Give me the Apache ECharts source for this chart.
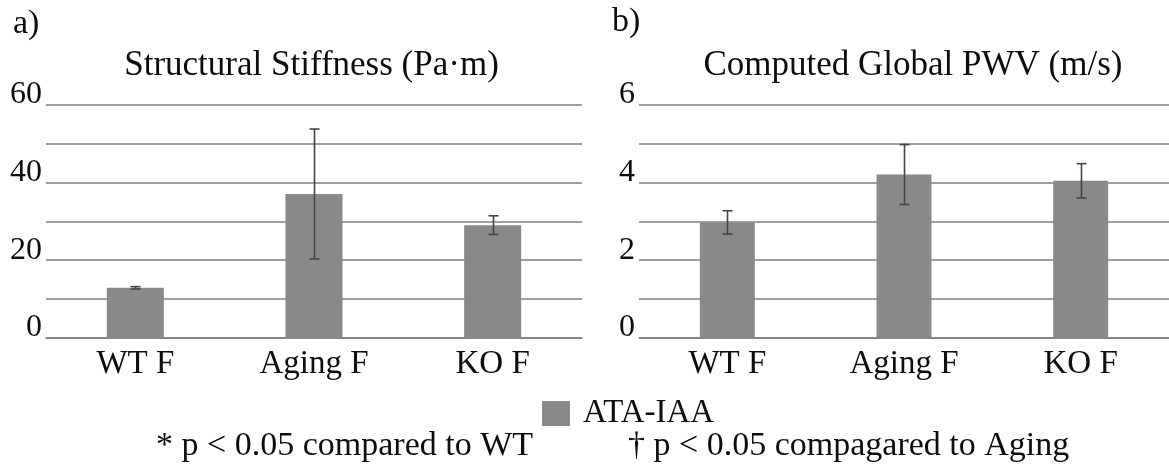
<!DOCTYPE html>
<html>
<head>
<meta charset="utf-8">
<script src="https://cdn.jsdelivr.net/npm/echarts@6/dist/echarts.min.js"></script>
<style>
html,body{margin:0;padding:0;background:#fff;}
#chart{width:1169px;height:468px;}
</style>
</head>
<body>
<div id="chart"></div>
<script>
const categories = ['WT F', 'Aging F', 'KO F'];
const stiffnessValues = [12.9, 37.0, 29.0];
const stiffnessErrors = [0.3, 16.7, 2.4];
const pwvValues = [2.97, 4.2, 4.04];
const pwvErrors = [0.3, 0.77, 0.44];
const stiffnessTicks = [0, 20, 40, 60];
const pwvTicks = [0, 2, 4, 6];
const seriesName = 'ATA-IAA';
const titleA = 'Structural Stiffness (Pa·m)';
const titleB = 'Computed Global PWV (m/s)';
const note1 = '* p < 0.05 compared to WT';
const note2 = '† p < 0.05 compagared to Aging';

const FONT = '"Liberation Serif", "Times New Roman", serif';
const BAR = '#898989';
const GRIDC = '#7f7f7f';
const ERRC = '#4a423d';
const TXT = '#0d0d0d';

const chart = echarts.init(document.getElementById('chart'));

function errSeries(idx, values, errors) {
  return {
    type: 'custom',
    name: 'err' + idx,
    xAxisIndex: idx, yAxisIndex: idx,
    silent: true,
    z: 5,
    data: values.map((v, i) => [i, v - errors[i], v + errors[i]]),
    renderItem: function (params, api) {
      const lo = api.coord([api.value(0), api.value(1)]);
      const hi = api.coord([api.value(0), api.value(2)]);
      const x = Math.round(lo[0]) + 0.5;
      const hw = 5;
      const st = { stroke: ERRC, lineWidth: 1.6 };
      return { type: 'group', children: [
        { type: 'line', shape: { x1: x, y1: lo[1], x2: x, y2: hi[1] }, style: st },
        { type: 'line', shape: { x1: x - hw, y1: lo[1], x2: x + hw, y2: lo[1] }, style: st },
        { type: 'line', shape: { x1: x - hw, y1: hi[1], x2: x + hw, y2: hi[1] }, style: st }
      ]};
    }
  };
}

function yAxis(idx, max, interval, ticks) {
  return {
    type: 'value', gridIndex: idx, min: 0, max: max, interval: interval,
    axisLine: { show: false }, axisTick: { show: false },
    splitLine: { show: true, lineStyle: { color: GRIDC, width: 1.5 } },
    axisLabel: {
      fontFamily: FONT, fontSize: 32, color: TXT, margin: 4,
      verticalAlign: 'bottom', lineHeight: 20,
      formatter: function (v) { return ticks.indexOf(v) >= 0 ? String(v) : ''; }
    }
  };
}

function xAxis(idx) {
  return {
    type: 'category', gridIndex: idx, data: categories,
    axisLine: { show: true, lineStyle: { color: GRIDC, width: 1.5 } },
    axisTick: { show: false },
    axisLabel: { fontFamily: FONT, fontSize: 33, color: TXT, margin: 10 }
  };
}

const option = {
  backgroundColor: '#ffffff',
  animation: false,
  grid: [
    { left: 46, right: 1169 - 582, top: 104.5, bottom: 130, containLabel: false },
    { left: 639, right: -5, top: 104.5, bottom: 130, containLabel: false }
  ],
  xAxis: [xAxis(0), xAxis(1)],
  yAxis: [yAxis(0, 60, 10, stiffnessTicks), yAxis(1, 6, 1, pwvTicks)],
  legend: {
    data: [{ name: seriesName, icon: 'rect' }],
    left: 537, top: 392,
    itemWidth: 28, itemHeight: 25,
    itemGap: 10,
    textStyle: { fontFamily: FONT, fontSize: 33, color: TXT, padding: [0, 0, 0, 8] },
    selectedMode: false
  },
  series: [
    { type: 'bar', name: seriesName, xAxisIndex: 0, yAxisIndex: 0, data: stiffnessValues,
      barWidth: 57, itemStyle: { color: BAR } },
    { type: 'bar', name: seriesName, xAxisIndex: 1, yAxisIndex: 1, data: pwvValues,
      barWidth: 55, itemStyle: { color: BAR } },
    errSeries(0, stiffnessValues, stiffnessErrors),
    errSeries(1, pwvValues, pwvErrors)
  ],
  graphic: [
    { type: 'text', x: 13, y: 24, style: { text: 'a)', font: '34px ' + FONT, fill: TXT, textAlign: 'left', textVerticalAlign: 'middle' } },
    { type: 'text', x: 612, y: 22, style: { text: 'b)', font: '34px ' + FONT, fill: TXT, textAlign: 'left', textVerticalAlign: 'middle' } },
    { type: 'text', x: 311.5, y: 66, style: { text: titleA, font: '35px ' + FONT, fill: TXT, textAlign: 'center', textVerticalAlign: 'middle' } },
    { type: 'text', x: 913, y: 66, style: { text: titleB, font: '35px ' + FONT, fill: TXT, textAlign: 'center', textVerticalAlign: 'middle' } },
    { type: 'text', x: 156, y: 446, style: { text: note1, font: '34px ' + FONT, fill: TXT, textAlign: 'left', textVerticalAlign: 'middle' } },
    { type: 'text', x: 628, y: 446, style: { text: note2, font: '34px ' + FONT, fill: TXT, textAlign: 'left', textVerticalAlign: 'middle' } }
  ]
};
chart.setOption(option);
</script>
</body>
</html>
